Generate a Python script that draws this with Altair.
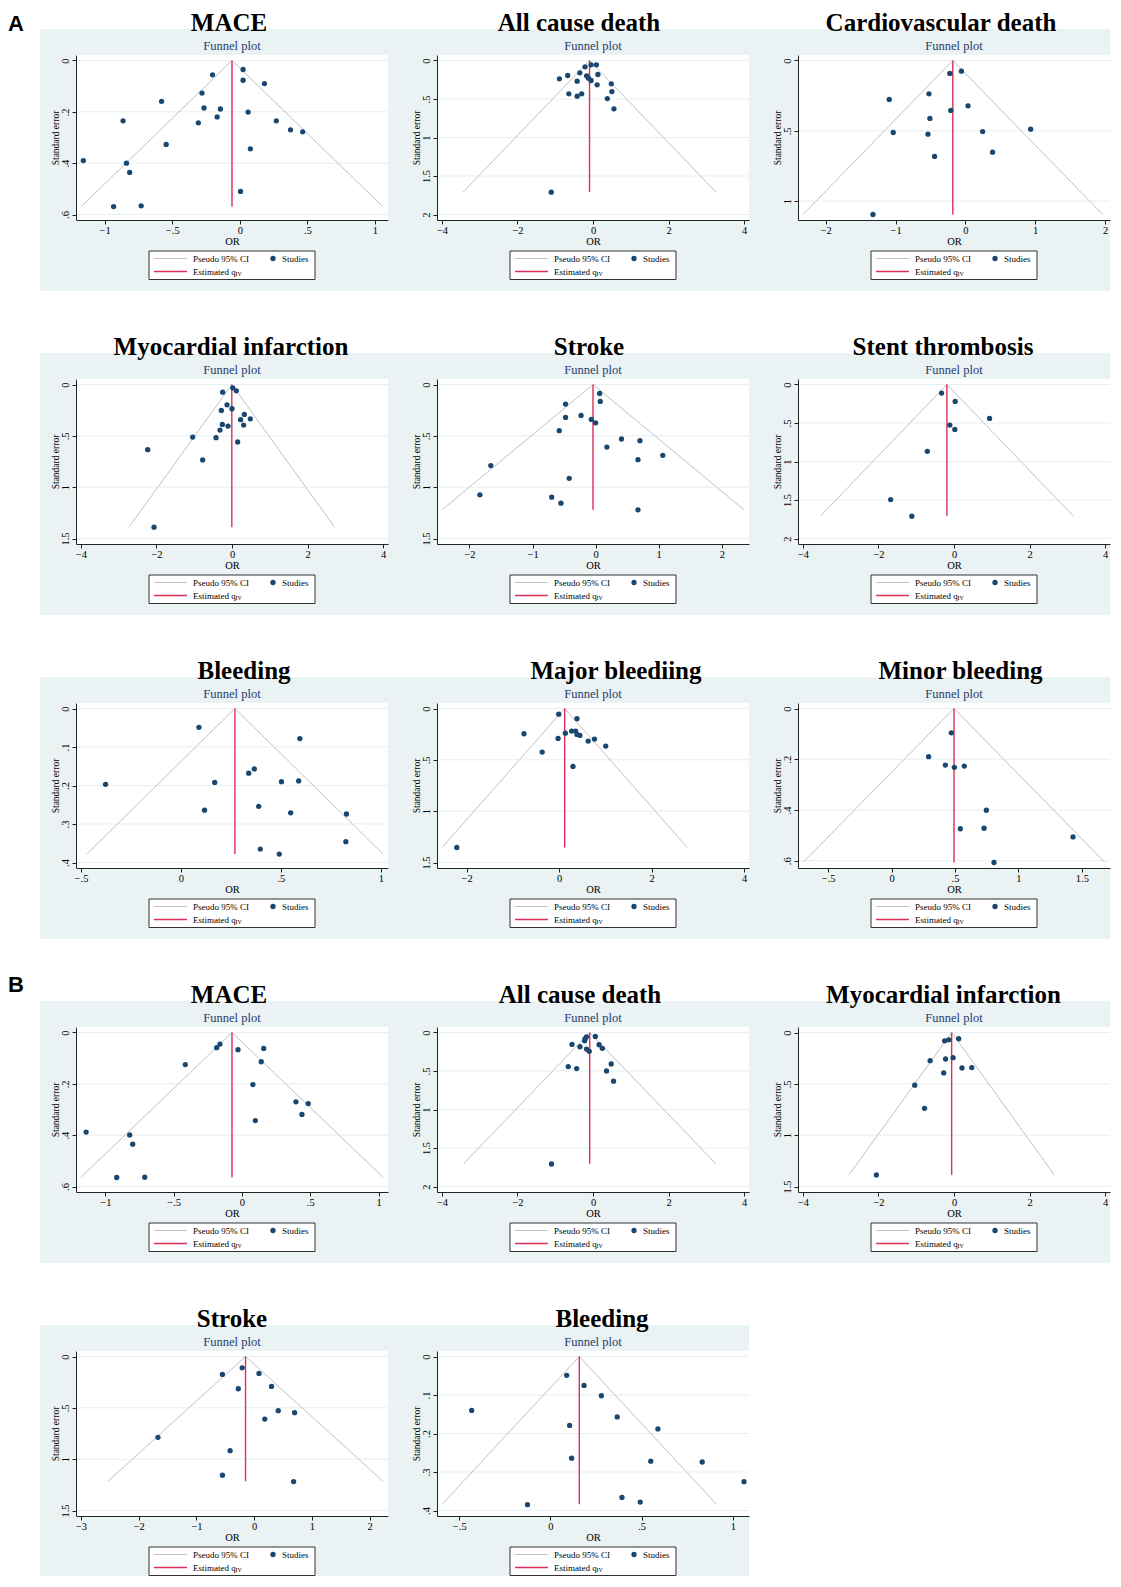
import altair as alt
import pandas as pd

# ---------------- data ----------------
titles = ["MACE", "All cause death", "Cardiovascular death",
          "Myocardial infarction", "Stroke", "Stent thrombosis",
          "Bleeding", "Major bleediing", "Minor bleeding",
          "MACE", "All cause death", "Myocardial infarction",
          "Stroke", "Bleeding"]

x_ticks = [[-1, -0.5, 0, 0.5, 1], [-4, -2, 0, 2, 4], [-2, -1, 0, 1, 2],
           [-4, -2, 0, 2, 4], [-2, -1, 0, 1, 2], [-4, -2, 0, 2, 4],
           [-0.5, 0, 0.5, 1], [-2, 0, 2, 4], [-0.5, 0, 0.5, 1, 1.5],
           [-1, -0.5, 0, 0.5, 1], [-4, -2, 0, 2, 4], [-4, -2, 0, 2, 4],
           [-3, -2, -1, 0, 1, 2], [-0.5, 0, 0.5, 1]]
y_ticks = [[0, 0.2, 0.4, 0.6], [0, 0.5, 1, 1.5, 2], [0, 0.5, 1],
           [0, 0.5, 1, 1.5], [0, 0.5, 1, 1.5], [0, 0.5, 1, 1.5, 2],
           [0, 0.1, 0.2, 0.3, 0.4], [0, 0.5, 1, 1.5], [0, 0.2, 0.4, 0.6],
           [0, 0.2, 0.4, 0.6], [0, 0.5, 1, 1.5, 2], [0, 0.5, 1, 1.5],
           [0, 0.5, 1, 1.5], [0, 0.1, 0.2, 0.3, 0.4]]

# estimated theta (red line) and largest standard error (funnel depth)
theta = [-0.058, -0.092, -0.18, -0.005, -0.042, -0.188, 0.27, 0.122, 0.492,
         -0.073, -0.087, -0.062, -0.15, 0.158]
se_max = [0.570, 1.71, 1.095, 1.39, 1.221, 1.706, 0.378, 1.354, 0.607,
          0.564, 1.703, 1.387, 1.215, 0.384]

a_mace_or = [0.024, -0.202, 0.024, 0.182, -0.280, -0.579, -0.265, -0.144, 0.061, -0.168, -0.864, 0.270,
             -0.307, 0.375, 0.465, -0.545, 0.078, -1.158, -0.839, -0.815, 0.005, -0.934, -0.730]
a_mace_se = [0.035, 0.056, 0.077, 0.090, 0.127, 0.159, 0.185, 0.189, 0.201, 0.220, 0.235, 0.235,
             0.243, 0.270, 0.278, 0.327, 0.344, 0.390, 0.400, 0.436, 0.510, 0.569, 0.566]

a_acd_or = [-0.05, 0.09, -0.21, -0.35, -0.67, -0.17, 0.13, -0.89, -0.12, -0.05, -0.42, 0.485, 0.11,
            -0.64, -0.30, -0.42, 0.50, 0.38, 0.555, -1.106]
a_acd_se = [0.056, 0.056, 0.082, 0.160, 0.195, 0.199, 0.182, 0.238, 0.229, 0.260, 0.268, 0.303, 0.316,
            0.433, 0.433, 0.463, 0.403, 0.494, 0.628, 1.71]

a_cvd_or = [-0.057, -0.223, -0.522, -1.091, 0.038, -0.209, -0.508, -1.034, 0.247, 0.935, -0.536, 0.389,
            -0.441, -1.324]
a_cvd_se = [0.076, 0.092, 0.237, 0.277, 0.322, 0.355, 0.412, 0.512, 0.505, 0.488, 0.524, 0.652,
            0.682, 1.095]

a_mi_or = [0.02, 0.115, -0.247, -0.132, 0.0, -0.282, 0.327, 0.229, 0.485, 0.309, -0.256, -0.106,
           -0.318, -1.041, -0.424, 0.150, -2.233, -0.777, -2.065]
a_mi_se = [0.032, 0.062, 0.075, 0.198, 0.236, 0.253, 0.292, 0.343, 0.334, 0.395, 0.389, 0.405,
           0.444, 0.512, 0.518, 0.560, 0.635, 0.735, 1.39]

a_stroke_or = [0.063, 0.073, -0.477, -0.231, -0.477, -0.068, 0.0, -0.577, 0.409, 0.702, 0.178, 0.671,
               1.064, -1.662, -0.419, -1.835, -0.697, -0.550, 0.671]
a_stroke_se = [0.087, 0.165, 0.191, 0.301, 0.321, 0.340, 0.373, 0.450, 0.531, 0.547, 0.609, 0.732,
               0.690, 0.790, 0.914, 1.075, 1.098, 1.156, 1.221]

a_st_or = [-0.329, 0.031, 0.942, -0.110, 0.022, -0.706, -1.678, -1.117]
a_st_se = [0.112, 0.220, 0.441, 0.527, 0.583, 0.868, 1.495, 1.711]

a_bleed_or = [0.090, 0.595, 0.367, 0.339, -0.377, 0.169, 0.503, 0.589, 0.118, 0.389, 0.549, 0.828,
              0.825, 0.397, 0.492]
a_bleed_se = [0.049, 0.078, 0.157, 0.168, 0.197, 0.192, 0.190, 0.188, 0.264, 0.254, 0.271, 0.274,
              0.346, 0.365, 0.378]

a_major_or = [-0.007, 0.387, -0.759, 0.272, 0.358, 0.136, 0.387, 0.451, -0.021, 0.630, 0.766, 1.009,
              -0.365, 0.301, -2.212]
a_major_se = [0.055, 0.100, 0.246, 0.220, 0.220, 0.240, 0.253, 0.262, 0.292, 0.317, 0.298, 0.366,
              0.424, 0.564, 1.354]

a_minor_or = [0.471, 0.292, 0.424, 0.495, 0.573, 0.747, 0.542, 0.729, 1.430, 0.807]
a_minor_se = [0.096, 0.190, 0.223, 0.232, 0.227, 0.401, 0.474, 0.472, 0.506, 0.607]

b_mace_or = [-0.161, -0.185, -0.029, 0.159, 0.141, -0.415, 0.080, 0.395, 0.485, 0.439, 0.098, -1.141,
             -0.822, -0.800, -0.917, -0.712]
b_mace_se = [0.045, 0.059, 0.067, 0.062, 0.114, 0.125, 0.203, 0.270, 0.277, 0.319, 0.343, 0.388,
             0.399, 0.435, 0.565, 0.564]

b_acd_or = [0.062, -0.173, -0.210, -0.222, -0.556, 0.161, 0.247, -0.346, -0.173, -0.099, 0.482, -0.655,
            -0.433, 0.358, 0.544, -1.100]
b_acd_se = [0.052, 0.056, 0.082, 0.108, 0.155, 0.159, 0.206, 0.185, 0.215, 0.245, 0.409, 0.443,
            0.469, 0.499, 0.632, 1.708]

b_mi_or = [0.124, -0.136, -0.248, -0.632, -0.223, -0.025, 0.211, 0.471, -0.272, -1.040, -0.780, -2.056]
b_mi_se = [0.061, 0.071, 0.081, 0.274, 0.258, 0.245, 0.345, 0.342, 0.394, 0.513, 0.739, 1.387]

b_stroke_or = [-0.208, 0.083, -0.55, -0.275, 0.30, 0.417, 0.70, 0.183, -1.667, -0.417, -0.55, 0.683]
b_stroke_se = [0.110, 0.165, 0.175, 0.314, 0.292, 0.528, 0.547, 0.609, 0.787, 0.917, 1.156, 1.218]

b_bleed_or = [0.089, 0.184, 0.279, -0.432, 0.366, 0.105, 0.589, 0.116, 0.550, 0.832, 1.061, 0.392,
              0.492, -0.126]
b_bleed_se = [0.049, 0.075, 0.102, 0.140, 0.157, 0.179, 0.188, 0.264, 0.272, 0.274, 0.325, 0.366,
              0.378, 0.385]

OR = [a_mace_or, a_acd_or, a_cvd_or, a_mi_or, a_stroke_or, a_st_or, a_bleed_or, a_major_or,
      a_minor_or, b_mace_or, b_acd_or, b_mi_or, b_stroke_or, b_bleed_or]
SE = [a_mace_se, a_acd_se, a_cvd_se, a_mi_se, a_stroke_se, a_st_se, a_bleed_se, a_major_se,
      a_minor_se, b_mace_se, b_acd_se, b_mi_se, b_stroke_se, b_bleed_se]

# ---------------- style ----------------
SERIF = "Liberation Serif"
SANS = "Liberation Sans"
BG = "#eaf2f3"
NAVY = "#1a476f"
RED = "#dc3058"
CIGRAY = "#c2c2c2"
GRID = "#e6eff1"
AXC = "#222222"
W, H = 312, 165
COLS = 3
COL_GAP = 49
ROW_GAP = 159
title_dx = [-3, -14, -13, -1, -4, -11, 12, 23, 6.5, -3, -13, -10.5, 0, 9]

LABEL_EXPR = "replace(format(datum.value, '~g'), '0.', '.')"


def panel(i, last_in_row, last_row, section=None, section_y=-24):
    th, sm = theta[i], se_max[i]
    lo, hi = th - 1.96 * sm, th + 1.96 * sm
    xt, yt = x_ticks[i], y_ticks[i]
    xmin = min(xt[0], lo, min(OR[i]))
    xmax = max(xt[-1], hi, max(OR[i]))
    ymax = max(yt[-1], sm, max(SE[i]))

    xsc = alt.Scale(domain=[xmin, xmax], nice=False, zero=False, padding=5)
    ysc = alt.Scale(domain=[0, ymax], nice=False, zero=False, padding=5.5, reverse=True)
    xax = alt.Axis(values=xt, title="OR", labelExpr=LABEL_EXPR, grid=False,
                   tickSize=4, tickColor=AXC, domainColor=AXC, labelColor="#000",
                   labelFont=SERIF, labelFontSize=10.5, labelPadding=1,
                   labelOverlap=False, labelBound=False, labelFlush=False,
                   titleFont=SERIF, titleFontSize=10.5, titleFontWeight="normal",
                   titleColor="#000", titlePadding=1, zindex=1)
    yax = alt.Axis(values=yt, title="Standard error", labelExpr=LABEL_EXPR, grid=False,
                   tickSize=4, tickColor=AXC, domainColor=AXC, labelColor="#000",
                   labelFont=SERIF, labelFontSize=10.5, labelAngle=270,
                   labelAlign="center", labelBaseline="bottom", labelPadding=2,
                   titleFont=SERIF, titleFontSize=9.5, titleFontWeight="normal",
                   titleColor="#000", titlePadding=0, zindex=1)
    X = alt.X("x:Q", scale=xsc, axis=xax)
    Y = alt.Y("y:Q", scale=ysc, axis=yax)

    one = pd.DataFrame({"k": [0]})
    gdf = pd.DataFrame({"y": yt})
    fdf = pd.DataFrame({"x": [lo, th, hi], "y": [sm, 0.0, sm], "o": [0, 1, 2]})
    edf = pd.DataFrame({"x": [th], "y": [0.0], "y2": [sm]})
    pdf = pd.DataFrame({"x": OR[i], "y": SE[i]})

    bg_right = W if last_in_row else W + COL_GAP - 36
    bg_bottom = H + 60 if last_row else H + 71
    bg = alt.Chart(one).mark_rect(color=BG).encode(
        x=alt.value(-36), x2=alt.value(bg_right), y=alt.value(-26), y2=alt.value(bg_bottom))
    white = alt.Chart(one).mark_rect(color="white").encode(
        x=alt.value(0), x2=alt.value(W), y=alt.value(0), y2=alt.value(H))
    grid = alt.Chart(gdf).mark_rule(color=GRID, strokeWidth=1).encode(
        y=Y, x=alt.value(0), x2=alt.value(W))
    funnel = alt.Chart(fdf).mark_line(color=CIGRAY, strokeWidth=1).encode(
        x=X, y=Y, order="o:Q")
    est = alt.Chart(edf).mark_rule(color=RED, strokeWidth=1.4).encode(
        x=X, y=Y, y2="y2:Q")
    pts = alt.Chart(pdf).mark_circle(color=NAVY, size=28, opacity=1).encode(x=X, y=Y)

    sub = alt.Chart(one).mark_text(font=SERIF, fontSize=12.5, color="#1f3c6e",
                                   baseline="middle").encode(
        x=alt.value(W / 2), y=alt.value(-9), text=alt.value("Funnel plot"))
    ttl = alt.Chart(one).mark_text(font=SERIF, fontSize=25, fontWeight="bold",
                                   color="#000", baseline="alphabetic").encode(
        x=alt.value(W / 2 + title_dx[i]), y=alt.value(-24), text=alt.value(titles[i]))

    c = W / 2
    ly1, ly2 = H + 38.5, H + 51.5
    legbox = alt.Chart(one).mark_rect(fill="white", stroke="#333333", strokeWidth=1).encode(
        x=alt.value(c - 83), x2=alt.value(c + 83), y=alt.value(H + 31), y2=alt.value(H + 59.5))
    lci = alt.Chart(one).mark_rule(color=CIGRAY, strokeWidth=1).encode(
        x=alt.value(c - 78), x2=alt.value(c - 45), y=alt.value(ly1))
    lest = alt.Chart(one).mark_rule(color=RED, strokeWidth=1.4).encode(
        x=alt.value(c - 78), x2=alt.value(c - 45), y=alt.value(ly2))
    ldot = alt.Chart(one).mark_circle(color=NAVY, size=28, opacity=1).encode(
        x=alt.value(c + 41), y=alt.value(ly1))
    tstyle = dict(font=SERIF, fontSize=9, color="#000", align="left", baseline="middle")
    t1 = alt.Chart(one).mark_text(**tstyle).encode(
        x=alt.value(c - 39), y=alt.value(ly1), text=alt.value("Pseudo 95% CI"))
    t2 = alt.Chart(one).mark_text(**tstyle).encode(
        x=alt.value(c + 50), y=alt.value(ly1), text=alt.value("Studies"))
    t3 = alt.Chart(one).mark_text(**tstyle).encode(
        x=alt.value(c - 39), y=alt.value(ly2), text=alt.value("Estimated q"))
    t3s = alt.Chart(one).mark_text(font=SERIF, fontSize=6, color="#000", align="left",
                                   baseline="middle").encode(
        x=alt.value(c + 3.5), y=alt.value(ly2 + 2.5), text=alt.value("IV"))

    layers = [bg, white, grid, funnel, est, pts, sub, ttl, legbox, lci, lest, ldot,
              t1, t2, t3, t3s]
    if section:
        layers.append(alt.Chart(one).mark_text(font=SANS, fontSize=22, fontWeight="bold",
                                               color="#000", align="left",
                                               baseline="alphabetic").encode(
            x=alt.value(-68), y=alt.value(section_y), text=alt.value(section)))
    return alt.layer(*layers).properties(width=W, height=H)


n = len(titles)
last_row_start = (n - 1) // COLS * COLS
panels = []
for i in range(n):
    last = (i % COLS == COLS - 1) or (i == n - 1)
    sec = None
    sy = -24
    if i == 0:
        sec = "A"
    elif i == 9:
        sec, sy = "B", -35
    panels.append(panel(i, last, i >= last_row_start, sec, sy))

chart = alt.concat(*panels, columns=COLS, spacing={"row": ROW_GAP, "column": COL_GAP},
                   bounds="flush").properties(
    padding={"left": 0, "top": 3, "right": 0, "bottom": 0}
).configure_view(strokeWidth=0)

chart.save("out.html", embed_options={"renderer": "svg", "actions": False})
